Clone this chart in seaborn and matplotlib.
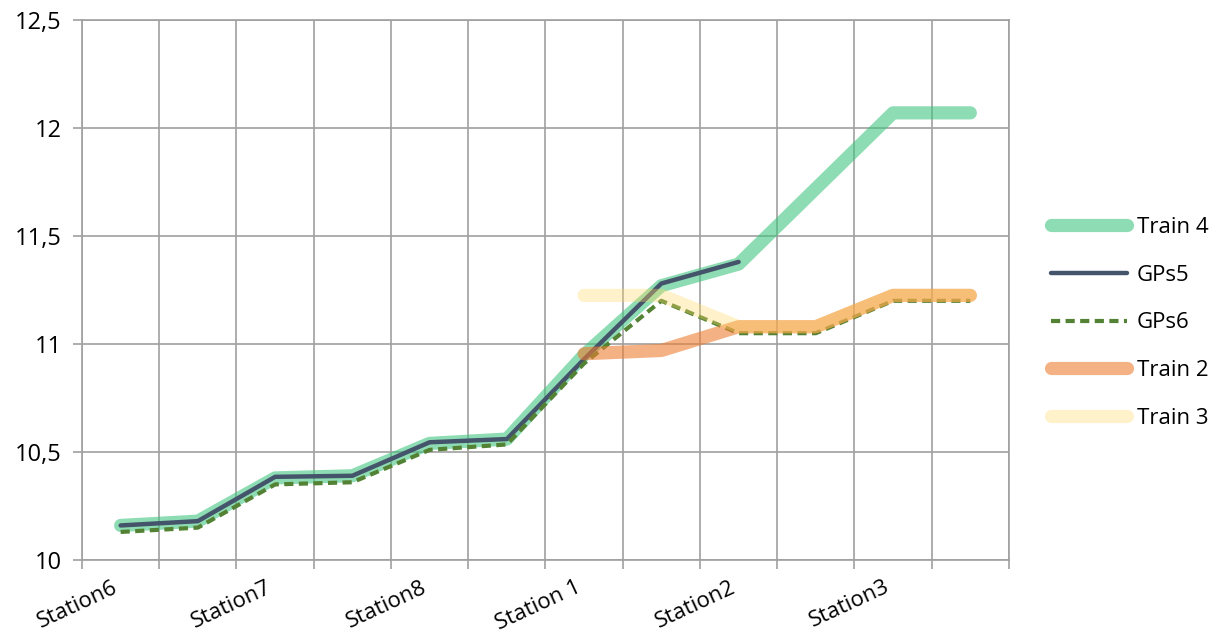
import numpy as np
import pandas as pd
import seaborn as sns
import matplotlib.pyplot as plt
import matplotlib.transforms as mtransforms
from matplotlib.ticker import FixedLocator, FuncFormatter

# Category labels (Excel shows every other one)
stations = ["Station6", "", "Station7", "", "Station8", "", "Station 1", "",
            "Station2", "", "Station3", ""]

nan = np.nan
train4 = [10.16, 10.18, 10.38, 10.39, 10.54, 10.56, 10.95, 11.27, 11.37, 11.72, 12.07, 12.07]
gps5 = [10.16, 10.18, 10.385, 10.39, 10.545, 10.56, 10.93, 11.28, 11.38, nan, nan, nan]
gps6 = [10.13, 10.15, 10.35, 10.36, 10.51, 10.535, 10.91, 11.2, 11.05, 11.05, 11.2, 11.2]
train2 = [nan, nan, nan, nan, nan, nan, 10.955, 10.97, 11.08, 11.08, 11.225, 11.225]
train3 = [nan, nan, nan, nan, nan, nan, 11.225, 11.225, 11.08, 11.08, 11.225, 11.225]

series = {"Train 4": train4, "GPs5": gps5, "GPs6": gps6, "Train 2": train2, "Train 3": train3}
styles = {
    "Train 4": dict(color="#3CC47C", alpha=0.58, linewidth=9.5, solid_capstyle="round"),
    "GPs5": dict(color="#44546A", linewidth=3.2, solid_capstyle="round"),
    "GPs6": dict(color="#548235", linewidth=3.0, dashes=(2.2, 1.3), dash_capstyle="butt"),
    "Train 2": dict(color="#ED7D31", alpha=0.6, linewidth=9.5, solid_capstyle="round"),
    "Train 3": dict(color="#FFD966", alpha=0.35, linewidth=9.5, solid_capstyle="round"),
}

sns.set_style("white")
plt.rcParams["font.family"] = ["Open Sans", "DejaVu Sans"]
plt.rcParams["text.color"] = "black"

fig = plt.figure(figsize=(12.13, 6.34), dpi=100)
ax = fig.add_axes([0.0676, 0.1167, 0.7642, 0.8518])

x = np.arange(len(stations))
for i, (name, vals) in enumerate(series.items()):
    df = pd.DataFrame({"x": x, "y": vals}).dropna()
    st = dict(styles[name])
    dashes = st.pop("dashes", None)
    sns.lineplot(data=df, x="x", y="y", ax=ax, label=name, sort=False,
                 zorder=3 + i, **st)
    if dashes is not None:
        ax.lines[-1].set_dashes(dashes)

ax.set_xlim(-0.5, len(stations) - 0.5)
ax.set_ylim(10, 12.5)
ax.set_xlabel("")
ax.set_ylabel("")

# y axis
ax.yaxis.set_major_locator(FixedLocator([10, 10.5, 11, 11.5, 12, 12.5]))
ax.yaxis.set_major_formatter(FuncFormatter(lambda v, p: f"{v:g}".replace(".", ",")))
ax.tick_params(axis="y", length=6.5, width=1.2, color="#A0A0A0", labelsize=17, pad=8,
               left=True, labelcolor="black")

# x axis: labels at categories, ticks/grid at boundaries
ax.set_xticks(x)
ax.set_xticklabels(stations, rotation=25, ha="right", rotation_mode="anchor", fontsize=16)
ax.tick_params(axis="x", which="major", length=0, pad=12, labelcolor="black")
shift = mtransforms.ScaledTranslation(-9 / 100, 0, fig.dpi_scale_trans)
for lbl in ax.get_xticklabels():
    lbl.set_transform(lbl.get_transform() + shift)
ax.set_xticks(np.arange(-0.5, len(stations)), minor=True)
ax.tick_params(axis="x", which="minor", length=6.5, width=1.2, color="#A0A0A0", bottom=True)

ax.grid(False)
ax.grid(True, axis="x", which="minor", color="#A0A0A0", linewidth=1.2)
ax.grid(True, axis="y", which="major", color="#A0A0A0", linewidth=1.2)
for s in ax.spines.values():
    s.set_color("#A0A0A0")
    s.set_linewidth(1.2)
ax.set_axisbelow(True)

ax.legend(loc="center left", bbox_to_anchor=(1.024, 0.439), frameon=False, fontsize=16,
          handlelength=3.4, handletextpad=0.45, labelspacing=1.2, labelcolor="black")

fig.savefig("out.png", dpi=100)
